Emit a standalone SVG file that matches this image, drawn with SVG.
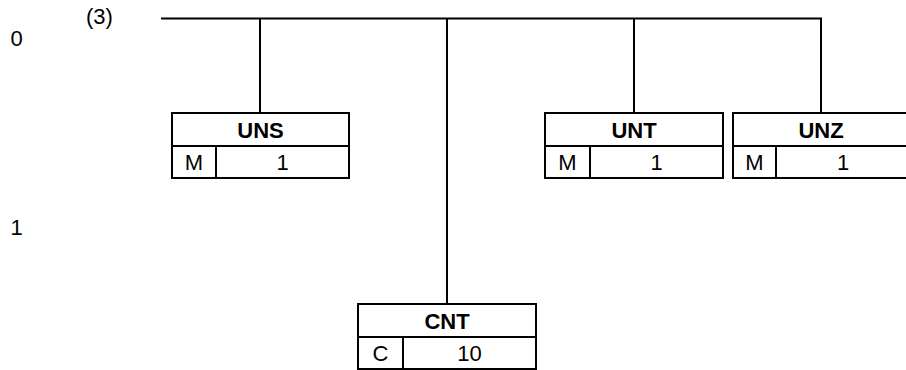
<svg xmlns="http://www.w3.org/2000/svg" width="906" height="370" viewBox="0 0 906 370">
<style>
.b{fill:#fff;stroke:#000;stroke-width:2}
.l{stroke:#000;stroke-width:2;fill:none}
text{font-family:"Liberation Sans",Arial,sans-serif;font-size:22px;fill:#000}
.t{font-weight:bold;text-anchor:middle}
.c{text-anchor:middle}
</style>
<rect width="906" height="370" fill="#fff"/>
<text x="10.5" y="46">0</text>
<text x="86" y="24">(3)</text>
<text x="10.5" y="235">1</text>
<g id="connectors">
<path class="l" d="M161,18.5H821M260,18.5V113M447,18.5V304M634,18.5V113M821,17.5V113"/>
</g>
<g id="UNS">
<rect class="b" x="172" y="113" width="177" height="65"/>
<path class="l" d="M172,146H349M216,146V178"/>
<text class="t" x="260.5" y="138">UNS</text>
<text class="c" x="194" y="170">M</text>
<text class="c" x="282.5" y="170">1</text>
</g>
<g id="UNT">
<rect class="b" x="545" y="113" width="178" height="65"/>
<path class="l" d="M545,146H723M590,146V178"/>
<text class="t" x="634" y="138">UNT</text>
<text class="c" x="567.5" y="170">M</text>
<text class="c" x="656.5" y="170">1</text>
</g>
<g id="UNZ">
<rect class="b" x="733" y="113" width="177" height="65"/>
<path class="l" d="M733,146H910M776,146V178"/>
<text class="t" x="821" y="138">UNZ</text>
<text class="c" x="754.5" y="170">M</text>
<text class="c" x="843" y="170">1</text>
</g>
<g id="CNT">
<rect class="b" x="358" y="304" width="178" height="65"/>
<path class="l" d="M358,337H536M403,337V369"/>
<text class="t" x="447" y="329">CNT</text>
<text class="c" x="380.5" y="361">C</text>
<text class="c" x="469.5" y="361">10</text>
</g>
</svg>
